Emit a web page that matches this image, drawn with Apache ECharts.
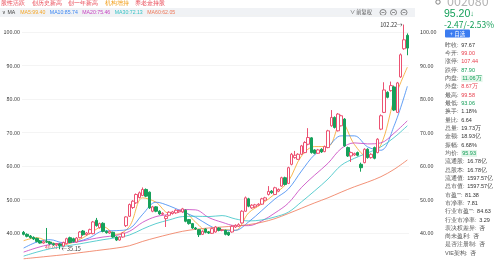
<!DOCTYPE html>
<html>
<head>
<meta charset="utf-8">
<script src="https://cdn.jsdelivr.net/npm/echarts@6.0.0/dist/echarts.min.js"></script>
<style>
html, body { margin: 0; padding: 0; background: #fff; }
#main { width: 500px; height: 260px; }
</style>
</head>
<body>
<div id="main"></div>
<script>
// 日K 数据
var opens = [40.2,39.6,39.1,38.7,38.4,37.6,37.0,37.4,37.3,36.8,36.4,36.7,36.1,36.8,38.6,38.3,37.3,38.6,40.6,39.5,
  39.9,39.8,43.8,41.6,42.9,40.5,40.0,40.2,38.8,37.9,38.8,42.2,45.0,47.6,49.0,50.6,51.2,53.0,52.2,46.5,
  47.8,46.5,45.6,44.3,45.3,45.8,46.0,46.3,46.3,46.8,44.0,42.8,41.5,41.0,39.6,41.2,40.3,39.9,40.3,41.5,
  40.8,40.8,40.2,40.3,41.8,42.0,43.0,46.5,50.2,47.5,47.8,48.3,48.6,49.8,51.5,52.5,51.5,52.5,54.0,56.5,
  54.8,60.5,62.5,62.0,63.5,64.0,66.5,68.4,64.8,63.8,65.0,64.3,65.5,72.0,74.5,70.5,72.0,74.0,65.5,63.0,
  63.3,64.0,60.5,61.0,65.0,62.5,65.5,64.0,71.0,76.0,82.0,82.5,83.6,76.0,86.6,95.0,99.0];
var closes = [39.6,39.0,38.6,38.2,37.5,37.0,37.4,37.3,36.8,36.5,36.7,36.2,37.2,38.3,37.2,37.5,38.5,40.3,39.5,40.0,
  41.0,43.3,42.2,42.8,40.5,40.1,40.5,38.8,37.9,38.8,40.0,44.8,48.5,49.5,51.5,52.0,53.0,51.0,47.5,47.8,
  46.5,45.7,45.9,45.0,46.2,46.3,46.8,46.6,47.2,43.5,42.8,41.5,41.2,39.5,40.5,40.2,40.0,41.3,41.8,40.8,
  40.9,39.6,39.4,42.0,42.3,42.5,46.5,50.5,48.0,48.3,48.4,48.6,50.2,50.5,52.4,52.0,53.5,53.0,56.5,54.5,
  59.5,63.5,63.2,63.5,66.0,67.0,68.5,64.0,63.8,64.8,64.2,65.8,70.5,74.5,71.5,75.5,75.0,66.0,63.0,64.0,
  63.7,63.2,59.5,65.0,62.5,63.5,62.3,68.0,75.0,82.7,80.5,84.0,76.7,84.8,93.2,97.67,95.2];
var lows = [39.3,38.7,38.3,37.9,37.2,36.8,36.8,37.0,36.5,36.2,36.1,35.15,35.9,36.6,37.0,37.2,37.1,38.4,39.2,39.2,
  39.6,39.6,41.9,41.3,40.2,39.8,39.7,38.6,37.6,37.7,38.6,41.8,44.8,47.2,48.7,50.3,51.0,50.7,47.2,46.2,
  46.2,45.4,45.3,41.8,45.0,45.5,45.7,46.0,46.0,43.2,42.5,41.2,40.9,38.8,39.4,39.9,39.7,39.7,40.1,40.5,
  40.5,39.3,39.1,40.1,41.5,41.8,42.8,46.3,47.7,47.2,47.5,48.0,48.4,49.5,51.2,51.7,51.3,52.2,53.8,54.2,
  54.6,60.2,62.2,61.8,63.3,63.8,66.2,63.7,63.5,63.6,63.9,64.1,65.3,71.7,71.2,70.3,71.8,65.7,62.7,61.2,
  63.0,62.9,58.3,60.8,62.2,62.2,62.0,63.8,70.7,75.8,80.2,82.2,76.4,75.8,86.3,94.7,93.06];
var highs = [40.6,39.9,39.4,39.0,38.6,37.9,37.8,41.5,37.6,37.1,37.0,36.9,37.4,38.6,38.9,38.6,38.8,40.6,40.9,40.3,
  41.3,43.6,44.5,43.1,43.2,40.8,40.8,40.4,39.0,39.0,40.3,45.0,48.8,49.8,51.8,52.4,53.6,53.3,52.4,48.1,
  48.0,46.8,46.2,45.3,46.5,46.6,47.1,46.9,47.5,47.0,44.2,43.0,41.8,41.2,40.8,41.4,40.6,41.6,42.1,41.7,
  41.2,41.0,40.4,42.3,42.6,42.9,46.8,50.9,50.5,48.6,48.7,48.9,50.5,50.8,54.0,52.8,53.8,53.3,56.8,56.8,
  59.8,63.9,64.5,63.8,66.3,67.4,71.3,68.6,65.0,65.1,65.3,66.1,70.8,76.7,74.8,75.8,75.3,74.3,65.8,64.3,
  64.0,64.3,61.0,65.3,65.3,63.8,65.8,68.3,75.4,85.0,82.3,85.2,84.0,85.1,93.6,102.22,99.58];

// 均线（每 4 根K线读一个点）
var maIdx = [0,4,8,12,16,20,24,28,32,36,40,44,48,52,56,60,64,68,72,76,80,84,88,92,96,100,104,108,112,116];
var ma5  = [37.7,38.6,37.2,36.6,37.6,39.8,41.9,39.6,42.0,50.5,49.2,45.9,46.6,43.2,40.3,41.0,40.8,46.0,48.7,51.7,55.4,63.0,65.8,65.8,73.3,66.4,62.8,66.3,79.8,89.5];
var ma10 = [35.5,37.3,38.0,37.1,37.4,38.6,40.6,40.7,41.3,45.6,49.2,48.1,46.4,44.7,42.3,40.8,40.8,43.3,46.7,50.2,53.1,58.5,63.4,65.8,69.0,69.0,65.7,64.7,72.0,83.8];
var ma20 = [34.3,35.6,36.6,37.0,37.3,38.1,38.8,39.3,40.5,43.2,44.9,45.6,47.0,46.9,44.6,43.2,42.2,42.2,43.6,46.0,48.9,53.6,57.3,60.8,65.2,66.9,66.6,66.9,69.8,73.5];
var ma30 = [33.1,34.3,35.3,36.0,36.6,37.3,38.0,38.6,39.4,41.2,42.8,43.9,44.9,45.0,44.9,45.2,44.2,43.6,43.9,44.8,46.2,49.3,52.6,56.1,60.2,62.3,63.9,65.7,68.5,72.0];
var ma60 = [32.3,32.7,33.1,33.5,34.0,34.5,35.0,35.5,36.2,37.5,38.6,39.6,40.5,41.1,41.5,41.8,42.1,42.5,43.2,44.3,45.8,47.4,49.0,50.5,52.2,53.8,55.2,56.8,59.0,61.8];

var maNames = ['MA5','MA10','MA20','MA30','MA60'];
var maLast = ['99.40','85.74','75.46','72.13','62.05'];
var tags = ['股性活跃','创历史新高','创一年新高','机构增持','养老金持股'];

var infoLabels = ['昨收','今开','涨停','跌停','内盘','外盘','最高','最低','换手','量比','总量','金额','振幅','均价',
  '流通股','总股本','流通值','总市值','市盈""','市净率','行业市盈""','行业市净率','表决权差异','尚未盈利','是否注册制','VIE架构'];
var infoValues = ['97.67','99.00','107.44','87.90','11.06万','8.67万','99.58','93.06','1.18%','6.64','19.73万','18.93亿','6.68%','95.93',
  '16.78亿','16.78亿','1597.57亿','1597.57亿','81.38','7.81','84.63','3.29','否','否','否','否'];
var infoTone = ['v','up','up','dn','dnbox','up','up','dn','v','v','v','v','v','dnbox','v','v','v','v','v','v','v','v','v','v','v','v'];

var days = opens.map(function(v, i) { return String(i); });
var candle = opens.map(function(o, i) { return [o, closes[i], lows[i], highs[i]]; });

var maColors = ['#f5a524','#3a86f2','#c63fbf','#35c2c4','#ef7656'];
var maSets = [ma5, ma10, ma20, ma30, ma60];

var UP = '#ec5272', DOWN = '#16a05a';
var FONT = '"Noto Sans CJK SC", "Noto Sans", sans-serif';

var myChart = echarts.init(document.getElementById('main'), null, { renderer: 'canvas' });

var series = [{
  type: 'candlestick',
  data: candle,
  barWidth: 3,
  z: 3,
  itemStyle: {
    color: '#fff', color0: DOWN,
    borderColor: UP, borderColor0: DOWN,
    borderWidth: 1
  },
  markPoint: {
    symbol: 'circle', symbolSize: 1,
    itemStyle: { color: 'rgba(0,0,0,0)' },
    label: { show: true, fontSize: 5.5, color: '#333', fontFamily: FONT },
    data: [
      { coord: [115, 102.22], label: { position: 'left', distance: 1, formatter: '102.22→' } },
      { coord: [11, 35.15], label: { position: 'right', distance: 1, formatter: '←35.15' } }
    ]
  }
}];
maNames.forEach(function(n, k) {
  series.push({
    type: 'line', name: n,
    data: maIdx.map(function(ix, j) { return [ix, maSets[k][j]]; }),
    smooth: 0.35, showSymbol: false, z: 2,
    lineStyle: { width: 0.8, color: maColors[k] }
  });
});

// 顶部标签、均线说明、右侧信息栏
var g = [];
g.push({ type: 'rect', silent: true, shape: { x: 0, y: 8, width: 415, height: 9 }, style: { fill: '#f0f2f5' } });
g.push({ type: 'text', silent: true, x: 1, y: 3,
  style: {
    text: tags.map(function(t, i) { return '{' + (i === 3 ? 'o' : 'r') + '|' + t + '}'; }).join(''),
    verticalAlign: 'middle', fontFamily: FONT,
    rich: {
      r: { fill: '#e8414f', fontSize: 5.6, padding: [0, 6.5, 0, 0] },
      o: { fill: '#f29d16', fontSize: 5.6, padding: [0, 6.5, 0, 0] }
    }
  } });
var maRich = { t: { fill: '#444', fontSize: 5.2, padding: [0, 5, 0, 0] } };
var maText = '{t|∨ MA}';
maNames.forEach(function(n, k) {
  maRich['m' + k] = { fill: maColors[k], fontSize: 5.2, padding: [0, 4.5, 0, 0] };
  maText += '{m' + k + '|' + n + ':' + maLast[k] + '}';
});
g.push({ type: 'text', silent: true, x: 2, y: 12.5, style: { text: maText, rich: maRich, verticalAlign: 'middle', fontFamily: FONT } });
g.push({ type: 'text', silent: true, x: 350, y: 12.5, style: { text: '∨ 前复权', fill: '#555', fontSize: 5.2, verticalAlign: 'middle', fontFamily: FONT } });
[383, 393.5, 404].forEach(function(cx, i) {
  g.push({ type: 'circle', silent: true, shape: { cx: cx, cy: 12.5, r: 3 }, style: { fill: 'none', stroke: '#666', lineWidth: 0.8 } });
  g.push({ type: 'line', silent: true, shape: { x1: cx - 1.5, y1: 12.5, x2: cx + 1.5, y2: 12.5 }, style: { stroke: '#666', lineWidth: 0.7 } });
});
g.push({ type: 'text', silent: true, x: 45, y: 247.5, style: { text: '40.01', fill: '#e8414f', fontSize: 5, verticalAlign: 'middle', fontFamily: FONT } });

g.push({ type: 'circle', silent: true, shape: { cx: 438, cy: 2, r: 2.2 }, style: { fill: 'none', stroke: '#666', lineWidth: 0.8 } });
g.push({ type: 'text', silent: true, x: 447, y: 1, style: { text: '002080', fill: '#b5b5b5', fontSize: 12.5, verticalAlign: 'middle', fontFamily: FONT } });
g.push({ type: 'text', silent: true, x: 444, y: 14,
  style: { text: '{n|95.20}{a|↓}', verticalAlign: 'middle', fontFamily: FONT,
    rich: { n: { fill: DOWN, fontSize: 10.5 }, a: { fill: DOWN, fontSize: 7.5 } } } });
g.push({ type: 'text', silent: true, x: 444, y: 25, style: { text: '-2.47/-2.53%', fill: DOWN, fontSize: 8.5, verticalAlign: 'middle', fontFamily: FONT } });
g.push({ type: 'rect', silent: true, shape: { x: 445, y: 29.5, width: 25, height: 8, r: 1 }, style: { fill: '#3b7cf0' } });
g.push({ type: 'text', silent: true, x: 457.5, y: 33.6, style: { text: '+ 自选', fill: '#fff', fontSize: 5.5, align: 'center', verticalAlign: 'middle', fontFamily: FONT } });

var infoRich = {
  k: { fill: '#555', fontSize: 5.5 },
  v: { fill: '#333', fontSize: 5.5 },
  up: { fill: '#e8414f', fontSize: 5.5 },
  dn: { fill: DOWN, fontSize: 5.5 },
  dnbox: { fill: DOWN, fontSize: 5.5, backgroundColor: '#e3f6ea', padding: [0.5, 1] }
};
infoLabels.forEach(function(lab, i) {
  g.push({ type: 'text', silent: true, x: 445, y: 45.3 + 8.32 * i,
    style: { text: '{k|' + lab + ':} {' + infoTone[i] + '|' + infoValues[i] + '}', rich: infoRich, verticalAlign: 'middle', fontFamily: FONT } });
});

// 价格轴：32 在底边(y=260)，105 在顶边，刻度每 10 元
var yBase = {
  type: 'value', min: 32, max: 105, splitNumber: 7, minInterval: 10, maxInterval: 10,
  axisLine: { show: false }, axisTick: { show: false },
  axisLabel: { fontSize: 5.4, color: '#333', fontFamily: FONT, showMaxLabel: false, showMinLabel: false,
    formatter: function(v) { return v % 10 === 0 ? v.toFixed(2) : ''; } }
};

var option = {
  animation: false,
  backgroundColor: '#fff',
  textStyle: { fontFamily: FONT },
  grid: { left: 22, top: 15.25, width: 387, height: 244.55 },
  xAxis: {
    type: 'category', data: days, boundaryGap: true,
    axisLine: { show: false }, axisTick: { show: false }, axisLabel: { show: false }, splitLine: { show: false }
  },
  yAxis: [
    echarts.util.merge({ position: 'left', axisLabel: { margin: 2 }, splitLine: { lineStyle: { color: '#f1f1f1', width: 0.8 } } }, yBase),
    echarts.util.merge({ position: 'right', axisLabel: { margin: 11 }, splitLine: { show: false } }, yBase)
  ],
  series: series,
  graphic: g
};
myChart.setOption(option);
</script>
</body>
</html>
